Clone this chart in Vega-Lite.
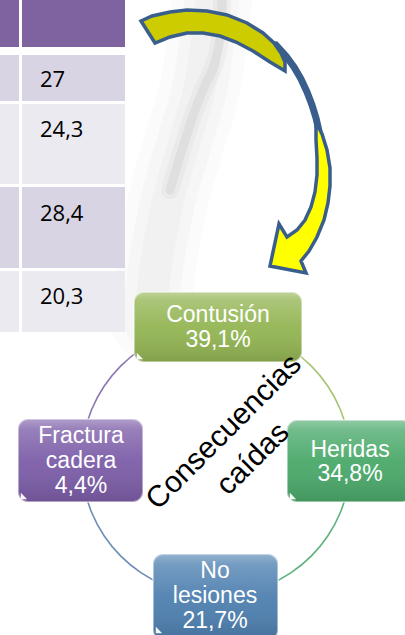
{
  "$schema": "https://vega.github.io/schema/vega-lite/v6.json",
  "width": 405,
  "height": 635,
  "autosize": {"type": "none"},
  "padding": 0,
  "background": "white",
  "config": {"view": {"stroke": null}},
  "datasets": {
    "wmWide": [
      {"i": 0, "x": 212, "y": 0}, {"i": 1, "x": 203, "y": 70}, {"i": 2, "x": 185, "y": 140},
      {"i": 3, "x": 166, "y": 210}, {"i": 4, "x": 154, "y": 280}, {"i": 5, "x": 150, "y": 320}
    ],
    "wmNarrow": [
      {"i": 0, "x": 222, "y": 0}, {"i": 1, "x": 221, "y": 30}, {"i": 2, "x": 216, "y": 58},
      {"i": 3, "x": 205, "y": 85}, {"i": 4, "x": 195, "y": 110}, {"i": 5, "x": 182, "y": 150},
      {"i": 6, "x": 170, "y": 190}
    ],
    "cells": [
      {"x": 0, "x2": 19, "y": 0, "y2": 47, "c": "#7F63A1"},
      {"x": 22, "x2": 125, "y": 0, "y2": 47, "c": "#7F63A1"},
      {"x": 0, "x2": 19, "y": 55, "y2": 101, "c": "#D8D4E3"},
      {"x": 22, "x2": 125, "y": 55, "y2": 101, "c": "#D8D4E3"},
      {"x": 0, "x2": 19, "y": 104, "y2": 184, "c": "#ECEAF1"},
      {"x": 22, "x2": 125, "y": 104, "y2": 184, "c": "#ECEAF1"},
      {"x": 0, "x2": 19, "y": 187, "y2": 268, "c": "#D8D4E3"},
      {"x": 22, "x2": 125, "y": 187, "y2": 268, "c": "#D8D4E3"},
      {"x": 0, "x2": 19, "y": 271, "y2": 332, "c": "#ECEAF1"},
      {"x": 22, "x2": 125, "y": 271, "y2": 332, "c": "#ECEAF1"}
    ],
    "cellText": [
      {"t": "27", "x": 40, "y": 87},
      {"t": "24,3", "x": 40, "y": 137},
      {"t": "28,4", "x": 40, "y": 221},
      {"t": "20,3", "x": 40, "y": 304}
    ],
    "arrowBack": [
      {"i": 0, "x": 141, "y": 21}, {"i": 1, "x": 152, "y": 16}, {"i": 2, "x": 170, "y": 12},
      {"i": 3, "x": 187, "y": 10}, {"i": 4, "x": 207, "y": 11}, {"i": 5, "x": 227, "y": 15},
      {"i": 6, "x": 247, "y": 23}, {"i": 7, "x": 263, "y": 33}, {"i": 8, "x": 274, "y": 43},
      {"i": 9, "x": 281, "y": 53}, {"i": 10, "x": 285, "y": 62}, {"i": 11, "x": 285, "y": 71},
      {"i": 12, "x": 270, "y": 62}, {"i": 13, "x": 253, "y": 51}, {"i": 14, "x": 236, "y": 42},
      {"i": 15, "x": 220, "y": 36}, {"i": 16, "x": 203, "y": 33}, {"i": 17, "x": 187, "y": 33},
      {"i": 18, "x": 170, "y": 37}, {"i": 19, "x": 155, "y": 43}
    ],
    "arrowMid": [
      {"i": 0, "x": 276, "y": 45}, {"i": 1, "x": 286, "y": 56}, {"i": 2, "x": 294, "y": 67},
      {"i": 3, "x": 301, "y": 79}, {"i": 4, "x": 307, "y": 92}, {"i": 5, "x": 312, "y": 105},
      {"i": 6, "x": 316, "y": 118}, {"i": 7, "x": 319, "y": 131}
    ],
    "arrowFront": [
      {"i": 0, "x": 316, "y": 122}, {"i": 1, "x": 322, "y": 134}, {"i": 2, "x": 327, "y": 150},
      {"i": 3, "x": 330, "y": 168}, {"i": 4, "x": 330, "y": 186}, {"i": 5, "x": 328, "y": 203},
      {"i": 6, "x": 324, "y": 220}, {"i": 7, "x": 317, "y": 237}, {"i": 8, "x": 309, "y": 251},
      {"i": 9, "x": 301, "y": 261}, {"i": 10, "x": 306, "y": 273}, {"i": 11, "x": 270, "y": 266},
      {"i": 12, "x": 279, "y": 224}, {"i": 13, "x": 287, "y": 237}, {"i": 14, "x": 297, "y": 230},
      {"i": 15, "x": 305, "y": 220}, {"i": 16, "x": 311, "y": 207}, {"i": 17, "x": 315, "y": 192},
      {"i": 18, "x": 317, "y": 175}, {"i": 19, "x": 317, "y": 158}, {"i": 20, "x": 316, "y": 140}
    ],
    "ring": [
      {"cx": 216, "cy": 461, "t0": 0, "t1": 1.5708, "c": "#A6C46E"},
      {"cx": 216, "cy": 461, "t0": 1.5708, "t1": 3.1416, "c": "#5DB37C"},
      {"cx": 216, "cy": 461, "t0": 3.1416, "t1": 4.7124, "c": "#6E8DB6"},
      {"cx": 216, "cy": 461, "t0": 4.7124, "t1": 6.2832, "c": "#8C77B5"}
    ],
    "boxes": [
      {"k": "Contusión", "x": 134, "x2": 302, "y": 292, "y2": 362, "c": "#93B553"},
      {"k": "Heridas", "x": 287, "x2": 412, "y": 420, "y2": 502, "c": "#4AA96A"},
      {"k": "Fractura", "x": 18, "x2": 143, "y": 419, "y2": 502, "c": "#7C5DA8"},
      {"k": "No lesiones", "x": 153, "x2": 278, "y": 554, "y2": 640, "c": "#4E80B0"}
    ],
    "curls": [
      {"x": 140, "y": 356}, {"x": 293, "y": 496}, {"x": 24, "y": 496}, {"x": 159, "y": 630}
    ],
    "labels": [
      {"t": "Contusión", "x": 218, "y": 322},
      {"t": "39,1%", "x": 218, "y": 347},
      {"t": "Heridas", "x": 350, "y": 457},
      {"t": "34,8%", "x": 350, "y": 481},
      {"t": "Fractura", "x": 81, "y": 443},
      {"t": "cadera", "x": 81, "y": 468},
      {"t": "4,4%", "x": 81, "y": 493},
      {"t": "No", "x": 215, "y": 578},
      {"t": "lesiones", "x": 215, "y": 603},
      {"t": "21,7%", "x": 215, "y": 628}
    ],
    "center": [
      {"t": "Consecuencias", "x": 224, "y": 432},
      {"t": "caídas", "x": 253, "y": 459}
    ]
  },
  "layer": [
    {
      "data": {"name": "wmWide"},
      "mark": {"type": "line", "stroke": "#B0B0B0", "strokeWidth": 80, "opacity": 0.05, "strokeCap": "round", "strokeJoin": "round", "interpolate": "monotone"},
      "encoding": {
        "x": {"field": "x", "type": "quantitative", "scale": {"domain": [0, 405], "nice": false, "zero": false}, "axis": null},
        "y": {"field": "y", "type": "quantitative", "scale": {"domain": [0, 635], "reverse": true, "nice": false, "zero": false}, "axis": null},
        "order": {"field": "i"}
      }
    },
    {
      "data": {"name": "wmWide"},
      "mark": {"type": "line", "stroke": "#B0B0B0", "strokeWidth": 55, "opacity": 0.06, "strokeCap": "round", "strokeJoin": "round", "interpolate": "monotone"},
      "encoding": {
        "x": {"field": "x", "type": "quantitative"},
        "y": {"field": "y", "type": "quantitative"},
        "order": {"field": "i"}
      }
    },
    {
      "data": {"name": "wmWide"},
      "mark": {"type": "line", "stroke": "#A8A8A8", "strokeWidth": 32, "opacity": 0.06, "strokeCap": "round", "strokeJoin": "round", "interpolate": "monotone"},
      "encoding": {
        "x": {"field": "x", "type": "quantitative"},
        "y": {"field": "y", "type": "quantitative"},
        "order": {"field": "i"}
      }
    },
    {
      "data": {"name": "wmNarrow"},
      "mark": {"type": "line", "stroke": "#909090", "strokeWidth": 18, "opacity": 0.07, "strokeCap": "round", "strokeJoin": "round", "interpolate": "monotone"},
      "encoding": {
        "x": {"field": "x", "type": "quantitative"},
        "y": {"field": "y", "type": "quantitative"},
        "order": {"field": "i"}
      }
    },
    {
      "data": {"name": "wmNarrow"},
      "mark": {"type": "line", "stroke": "#808080", "strokeWidth": 9, "opacity": 0.1, "strokeCap": "round", "strokeJoin": "round", "interpolate": "monotone"},
      "encoding": {
        "x": {"field": "x", "type": "quantitative"},
        "y": {"field": "y", "type": "quantitative"},
        "order": {"field": "i"}
      }
    },
    {
      "data": {"name": "cells"},
      "mark": {"type": "rect"},
      "encoding": {
        "x": {"field": "x", "type": "quantitative"},
        "x2": {"field": "x2"},
        "y": {"field": "y", "type": "quantitative"},
        "y2": {"field": "y2"},
        "color": {"field": "c", "type": "nominal", "scale": null}
      }
    },
    {
      "data": {"name": "cellText"},
      "mark": {"type": "text", "font": "Open Sans", "fontSize": 22, "color": "#000000", "align": "left", "baseline": "alphabetic"},
      "encoding": {
        "x": {"field": "x", "type": "quantitative"},
        "y": {"field": "y", "type": "quantitative"},
        "text": {"field": "t", "type": "nominal"}
      }
    },
    {
      "data": {"name": "arrowMid"},
      "mark": {"type": "line", "stroke": "#3A5E8C", "strokeWidth": 7, "strokeCap": "round", "strokeJoin": "round"},
      "encoding": {
        "x": {"field": "x", "type": "quantitative"},
        "y": {"field": "y", "type": "quantitative"},
        "order": {"field": "i"}
      }
    },
    {
      "data": {"name": "arrowBack"},
      "mark": {"type": "line", "interpolate": "linear-closed", "fill": "#CCCC00", "stroke": "#3A5E8C", "strokeWidth": 3.5, "strokeJoin": "miter"},
      "encoding": {
        "x": {"field": "x", "type": "quantitative"},
        "y": {"field": "y", "type": "quantitative"},
        "order": {"field": "i"}
      }
    },
    {
      "data": {"name": "arrowFront"},
      "mark": {"type": "line", "interpolate": "linear-closed", "fill": "#FFFF00", "stroke": "#3A5E8C", "strokeWidth": 3.5, "strokeJoin": "miter"},
      "encoding": {
        "x": {"field": "x", "type": "quantitative"},
        "y": {"field": "y", "type": "quantitative"},
        "order": {"field": "i"}
      }
    },
    {
      "data": {"name": "ring"},
      "mark": {"type": "arc", "radius": 135.4, "radius2": 133.8},
      "encoding": {
        "x": {"field": "cx", "type": "quantitative"},
        "y": {"field": "cy", "type": "quantitative"},
        "theta": {"field": "t0", "type": "quantitative", "scale": null, "stack": null},
        "theta2": {"field": "t1"},
        "color": {"field": "c", "type": "nominal", "scale": null}
      }
    },
    {
      "data": {"name": "boxes"},
      "mark": {"type": "rect", "cornerRadius": 10},
      "encoding": {
        "x": {"field": "x", "type": "quantitative"},
        "x2": {"field": "x2"},
        "y": {"field": "y", "type": "quantitative"},
        "y2": {"field": "y2"},
        "color": {"field": "c", "type": "nominal", "scale": null}
      }
    },
    {
      "data": {"name": "boxes"},
      "mark": {
        "type": "rect",
        "cornerRadius": 10,
        "stroke": "rgba(255,255,255,0.45)",
        "strokeWidth": 2,
        "fill": {
          "gradient": "linear", "x1": 0, "y1": 0, "x2": 0, "y2": 1,
          "stops": [
            {"offset": 0, "color": "rgba(255,255,255,0.40)"},
            {"offset": 0.12, "color": "rgba(255,255,255,0.22)"},
            {"offset": 0.5, "color": "rgba(255,255,255,0.05)"},
            {"offset": 1, "color": "rgba(0,0,0,0.12)"}
          ]
        }
      },
      "encoding": {
        "x": {"field": "x", "type": "quantitative"},
        "x2": {"field": "x2"},
        "y": {"field": "y", "type": "quantitative"},
        "y2": {"field": "y2"}
      }
    },
    {
      "data": {"name": "curls"},
      "mark": {"type": "point", "shape": "M -1 -1 L -1 1 L 1 1 Z", "size": 40, "filled": true, "color": "#FFFFFF", "opacity": 0.95},
      "encoding": {
        "x": {"field": "x", "type": "quantitative"},
        "y": {"field": "y", "type": "quantitative"}
      }
    },
    {
      "data": {"name": "labels"},
      "mark": {"type": "text", "font": "Liberation Sans", "fontSize": 23, "color": "#FFFFFF", "align": "center", "baseline": "alphabetic"},
      "encoding": {
        "x": {"field": "x", "type": "quantitative"},
        "y": {"field": "y", "type": "quantitative"},
        "text": {"field": "t", "type": "nominal"}
      }
    },
    {
      "data": {"name": "center"},
      "mark": {"type": "text", "font": "Liberation Sans", "fontSize": 30, "color": "#000000", "align": "center", "baseline": "middle", "angle": 315},
      "encoding": {
        "x": {"field": "x", "type": "quantitative"},
        "y": {"field": "y", "type": "quantitative"},
        "text": {"field": "t", "type": "nominal"}
      }
    }
  ]
}
